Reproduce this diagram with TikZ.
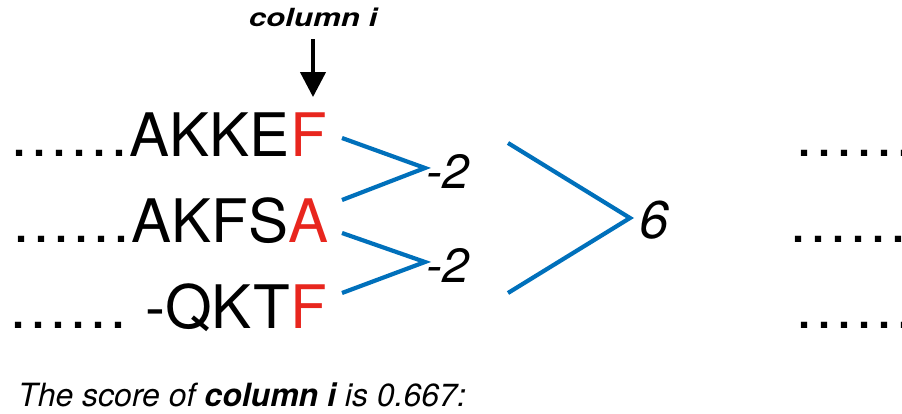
\documentclass[tikz,border=0pt]{standalone}
\usepackage{fontspec}
\setmainfont{TeX Gyre Heros}
\usetikzlibrary{arrows.meta}
\definecolor{resred}{RGB}{232,38,30}
\definecolor{linkblue}{RGB}{0,112,187}
\tikzset{
  seq/.style={inner sep=0pt, font=\fontsize{60}{60}\selectfont},
  hit/.style={seq, text=resred},
  score/.style={inner sep=0pt, font=\fontsize{48}{48}\selectfont\itshape},
  total/.style={inner sep=0pt, font=\fontsize{53}{53}\selectfont\itshape},
  link/.style={draw=linkblue, line width=4.2pt, line join=miter},
  pointer/.style={draw=black, line width=4pt, -{Triangle[width=25pt,length=25pt]}}
}
\begin{document}
\begin{tikzpicture}[x=1pt,y=-1pt]
\useasboundingbox (0,0) rectangle (902,414);
\clip (0,0) rectangle (902,414);

% aligned sequences, the scored column in red
\node[hit, anchor=base east] (f1) at (327,157) {F};
\node[seq, anchor=base east] (s1) at (f1.base west) {……AKKE};
\node[hit, anchor=base east] (a2) at (329,243) {A};
\node[seq, anchor=base east] (s2) at (a2.base west) {……AKFS};
\node[hit, anchor=base east] (f3) at (327,328) {F};
\node[seq, anchor=base east] (s3) at (f3.base west) {…… -QKT};

% continuation on the right
\node[seq, anchor=base west] (e1) at (794,157) {……};
\node[seq, anchor=base west] (e2) at (788,243) {……};
\node[seq, anchor=base west] (e3) at (794,328) {……};

% column marker
\node[inner sep=0pt, anchor=base, font=\fontsize{25}{25}\selectfont\bfseries\itshape] (lbl) at (313,27) {\scalebox{1.25}[1]{column i}};
\draw[pointer, shorten <=12pt, shorten >=16pt] (lbl.south) -- (lbl.south |- f1.north);

% pairwise scores
\coordinate (p1a) at (342,138);
\coordinate (p1b) at (342,200);
\coordinate (m1) at (425,168);
\coordinate (p2a) at (342,233);
\coordinate (p2b) at (342,293);
\coordinate (m2) at (425,262);
\node[score, anchor=base west] (sc1) at (426,189) {-2};
\node[score, anchor=base west] (sc2) at (426,282) {-2};
\draw[link] (p1a) -- (m1) -- (p1b);
\draw[link] (p2a) -- (m2) -- (p2b);

% column sum
\coordinate (q1) at (508,143);
\coordinate (q2) at (508,293);
\coordinate (m3) at (630,218);
\node[total, anchor=base west] (tot) at (639,238) {6};
\draw[link] (q1) -- (m3) -- (q2);

% caption
\node[inner sep=0pt, anchor=base west, font=\fontsize{32}{32}\selectfont\itshape] (cap) at (18,406)
  {The score of \textbf{column i} is 0.667:};
\end{tikzpicture}
\end{document}
